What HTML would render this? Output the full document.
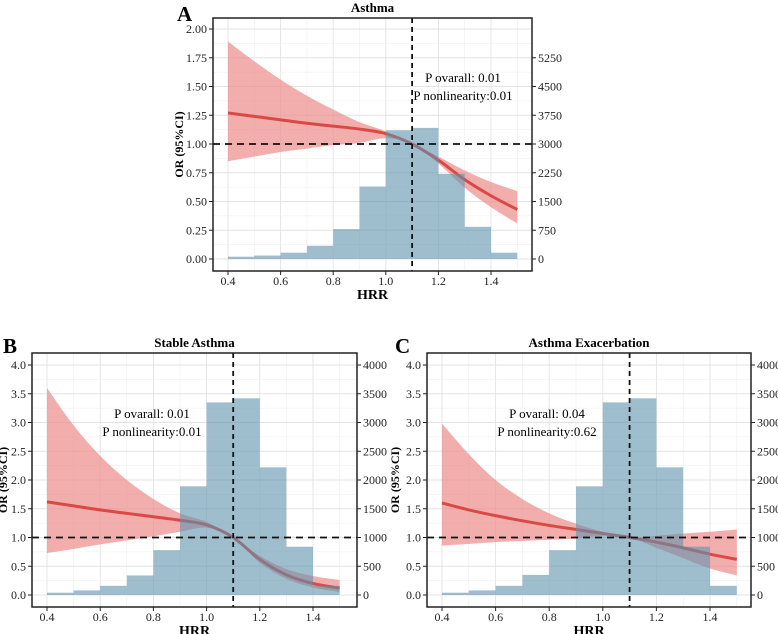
<!DOCTYPE html>
<html><head><meta charset="utf-8"><style>
body{margin:0;background:#fff;}
svg{display:block;font-family:"Liberation Serif",serif;}
</style></head><body>
<svg id="chart" width="778" height="634" viewBox="0 0 778 634"></svg>
<script>
const xs = [0.4,0.5,0.6,0.7,0.8,0.9,1.0,1.1,1.2,1.3,1.4,1.5];
const binStarts = [0.4,0.5,0.6,0.7,0.8,0.9,1.0,1.1,1.2,1.3,1.4];
const countsA = [60,90,165,345,780,1890,3360,3420,2220,840,165];
const countsB = [40,80,160,340,780,1890,3350,3420,2220,840,160];
const countsC = [40,80,160,350,780,1890,3350,3420,2220,840,160];
const fitA = [1.27,1.24,1.21,1.18,1.155,1.13,1.09,1.0,0.86,0.69,0.55,0.43];
const hiA  = [1.89,1.72,1.56,1.42,1.30,1.19,1.11,1.0,0.89,0.77,0.67,0.59];
const loA  = [0.85,0.89,0.93,0.96,0.99,1.01,1.05,1.0,0.83,0.62,0.45,0.31];
const fitB = [1.62,1.55,1.48,1.42,1.36,1.30,1.22,1.0,0.62,0.35,0.20,0.12];
const hiB  = [3.6,2.95,2.42,2.0,1.67,1.42,1.27,1.0,0.68,0.45,0.33,0.26];
const loB  = [0.73,0.80,0.88,0.95,1.02,1.10,1.17,1.0,0.56,0.28,0.13,0.05];
const fitC = [1.60,1.48,1.38,1.29,1.21,1.14,1.07,1.0,0.92,0.82,0.71,0.62];
const hiC  = [2.98,2.45,2.0,1.67,1.42,1.24,1.10,1.0,1.03,1.07,1.10,1.14];
const loC  = [0.86,0.89,0.92,0.94,0.96,0.98,1.03,1.0,0.82,0.64,0.46,0.34];
const xTicks = [0.4,0.6,0.8,1.0,1.2,1.4];
const yTicksA = ["0.00","0.25","0.50","0.75","1.00","1.25","1.50","1.75","2.00"];
const rTicksA = [0,750,1500,2250,3000,3750,4500,5250];
const yTicksBC = ["0.0","0.5","1.0","1.5","2.0","2.5","3.0","3.5","4.0"];
const rTicksBC = [0,500,1000,1500,2000,2500,3000,3500,4000];

const NS="http://www.w3.org/2000/svg";
const svg=document.getElementById('chart');
function mk(tag,attrs,parent,text){const e=document.createElementNS(NS,tag);for(const k in attrs)e.setAttribute(k,attrs[k]);if(text!==undefined)e.textContent=text;(parent||svg).appendChild(e);return e;}
function smooth(pts){let d=`M${pts[0][0]},${pts[0][1]}`;for(let i=0;i<pts.length-1;i++){const p0=pts[i-1]||pts[i],p1=pts[i],p2=pts[i+1],p3=pts[i+2]||p2;d+=` C${p1[0]+(p2[0]-p0[0])/6},${p1[1]+(p2[1]-p0[1])/6} ${p2[0]-(p3[0]-p1[0])/6},${p2[1]-(p3[1]-p1[1])/6} ${p2[0]},${p2[1]}`;}return d;}

function panel(o){
  const g=mk('g',{});
  
  
  const X=v=>o.x0+(v-0.4)*o.xs; const Y=v=>o.y0-v*o.ys;
  const C=v=>Y(v/o.cnt);
  const grid=mk('g',{},g);
  
  
  for(let v=0.3;v<=1.6;v+=0.1){const px=X(v);if(px>o.L&&px<o.R)mk('line',{x1:px,x2:px,y1:o.T,y2:o.B,stroke:Math.round(v*10)%2===0?'#e3e3e3':'#eeeeee','stroke-width':Math.round(v*10)%2===0?0.9:0.6},grid);}
  const yStep=o.yStep;
  for(let i=-1;i<=18;i++){const v=i*yStep/2;const py=Y(v);if(py>o.T&&py<o.B)mk('line',{x1:o.L,x2:o.R,y1:py,y2:py,stroke:i%2===0?'#e3e3e3':'#eeeeee','stroke-width':i%2===0?0.9:0.6},grid);}
  let top=xs.map((x,i)=>[X(x),Y(o.hi[i])]),bot=xs.map((x,i)=>[X(x),Y(o.lo[i])]).reverse();
  const rib=mk('path',{d:smooth(top)+' L'+smooth(bot).slice(1)+' Z',fill:'#ec8a8a','fill-opacity':0.7},g);
  
  
  const ln=mk('path',{d:smooth(xs.map((x,i)=>[X(x),Y(o.fit[i])])),fill:'none',stroke:'#d94a45','stroke-width':3},g);
  
  
  binStarts.forEach((b,i)=>{const r=mk('rect',{x:X(b),y:C(o.counts[i]),width:X(b+0.1)-X(b),height:C(0)-C(o.counts[i]),fill:'#5d93ad','fill-opacity':0.6},g);
    
    });
  const rl1=mk('line',{x1:o.L,x2:o.R,y1:Y(1),y2:Y(1),stroke:'#111','stroke-width':1.8,'stroke-dasharray':'7,5'},g);
  
  
  const rl2=mk('line',{x1:X(1.1),x2:X(1.1),y1:o.T,y2:o.B,stroke:'#111','stroke-width':1.8,'stroke-dasharray':'5,4'},g);
  
  
  const fr=mk('rect',{x:o.L,y:o.T,width:o.R-o.L,height:o.B-o.T,fill:'none',stroke:'#222','stroke-width':1.5},g);
  
  
  xTicks.forEach(v=>{mk('line',{x1:X(v),x2:X(v),y1:o.B,y2:o.B+4,stroke:'#222'},g);
    const t=mk('text',{x:X(v),y:o.B+14,'text-anchor':'middle','font-size':12,fill:'#222'},g,v.toFixed(1));
    
    });
  o.yt.forEach((s,i)=>{const py=Y(i*yStep);mk('line',{x1:o.L-4,x2:o.L,y1:py,y2:py,stroke:'#222'},g);
    const t=mk('text',{x:o.L-6,y:py+4,'text-anchor':'end','font-size':12,fill:'#222'},g,s);
    
    });
  o.rt.forEach(v=>{const py=C(v);mk('line',{x1:o.R,x2:o.R+4,y1:py,y2:py,stroke:'#222'},g);
    const t=mk('text',{x:o.R+6,y:py+4,'font-size':12,fill:'#222'},g,String(v));
    
    });
  const xt=mk('text',{x:(o.L+o.R)/2,y:o.B+28,'text-anchor':'middle','font-size':14,'font-weight':'bold'},g,'HRR');
  
  
  const yy=(o.T+o.B)/2;
  const yt=mk('text',{x:o.ytx,y:yy,'text-anchor':'middle','font-size':12,'font-weight':'bold',transform:`rotate(-90 ${o.ytx} ${yy})`},g,'OR (95%CI)');
  
  
  const tt=mk('text',{x:(o.L+o.R)/2,y:o.T-6,'text-anchor':'middle','font-size':13,'font-weight':'bold'},g,o.title);
  
  
  const lt=mk('text',{x:o.lx,y:o.ly,'font-size':21,'font-weight':'bold'},g,o.id);
  
  
  const a1=mk('text',{x:o.ax,y:o.ay,'text-anchor':'middle','font-size':13},g,o.p1);
  
  
  const a2=mk('text',{x:o.ax,y:o.ay+18,'text-anchor':'middle','font-size':13},g,o.p2);
  
  
}
panel({id:'A',title:'Asthma',L:213,R:532,T:18,B:271,x0:228,xs:263,y0:259,ys:115,yStep:0.25,cnt:3000,counts:countsA,fit:fitA,hi:hiA,lo:loA,yt:yTicksA,rt:rTicksA,ytx:183,lx:177,ly:21,ax:463,ay:82,p1:'P ovarall: 0.01',p2:'P nonlinearity:0.01'});
panel({id:'B',title:'Stable Asthma',L:32,R:357,T:353,B:607,x0:47,xs:266,y0:595,ys:57.5,yStep:0.5,cnt:1000,counts:countsB,fit:fitB,hi:hiB,lo:loB,yt:yTicksBC,rt:rTicksBC,ytx:7,lx:3,ly:353,ax:152,ay:418,p1:'P ovarall: 0.01',p2:'P nonlinearity:0.01'});
panel({id:'C',title:'Asthma Exacerbation',L:427,R:751,T:353,B:607,x0:442,xs:268,y0:595,ys:57.5,yStep:0.5,cnt:1000,counts:countsC,fit:fitC,hi:hiC,lo:loC,yt:yTicksBC,rt:rTicksBC,ytx:399,lx:395,ly:353,ax:547,ay:418,p1:'P ovarall: 0.04',p2:'P nonlinearity:0.62'});
</script>
</body></html>
